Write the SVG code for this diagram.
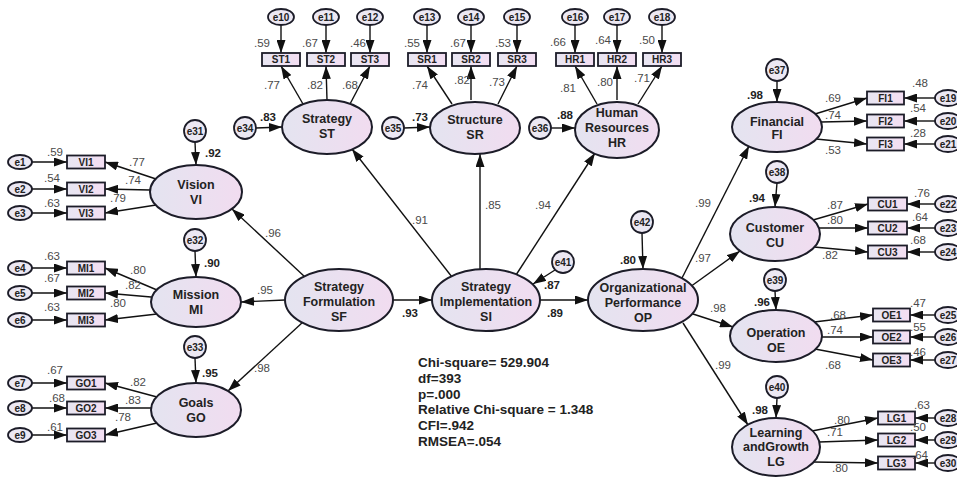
<svg xmlns="http://www.w3.org/2000/svg" width="957" height="479" viewBox="0 0 957 479">
<defs>
<linearGradient id="gL" x1="0" y1="0" x2="1" y2="0"><stop offset="0" stop-color="#e4e4f0"/><stop offset="1" stop-color="#f1dcf0"/></linearGradient>
<linearGradient id="gB" x1="0" y1="0" x2="1" y2="0"><stop offset="0" stop-color="#e8e6f2"/><stop offset="1" stop-color="#f3def2"/></linearGradient>
<marker id="ah" markerUnits="userSpaceOnUse" markerWidth="13" markerHeight="9" refX="13" refY="4.5" orient="auto"><path d="M0,0 L13,4.5 L0,9 z" fill="#111"/></marker>
<style>
.lat{fill:url(#gL);stroke:#1c1c28;stroke-width:2}
.box{fill:url(#gB);stroke:#1c1c28;stroke-width:1.8}
.err{fill:#ece8f3;stroke:#1c1c28;stroke-width:1.8}
.c line{stroke:#111;stroke-width:1.4;marker-end:url(#ah)}
text{font-family:"Liberation Sans",Arial,sans-serif;fill:#222}
.lt{font-size:12.5px;font-weight:bold;text-anchor:middle}
.bt{font-size:10px;font-weight:bold;text-anchor:middle}
.et{font-size:10px;font-weight:bold;text-anchor:middle}
.w{font-size:11.5px;fill:#4a4a4a;text-anchor:middle}
.r{font-size:11.5px;font-weight:bold;text-anchor:middle}
.fit{font-size:13.5px;font-weight:bold}
</style>
</defs>
<rect width="957" height="479" fill="#fff"/>

<g class="c" id="connectors">
<line x1="32" y1="162" x2="67" y2="162"/><line x1="32" y1="189" x2="67" y2="189"/><line x1="32" y1="213" x2="67" y2="213"/>
<line x1="32" y1="268" x2="67" y2="268"/><line x1="32" y1="293" x2="67" y2="293"/><line x1="32" y1="320" x2="67" y2="320"/>
<line x1="32" y1="383" x2="67" y2="383"/><line x1="32" y1="408" x2="67" y2="408"/><line x1="32" y1="435" x2="67" y2="435"/>
<line x1="156" y1="179" x2="105" y2="162"/><line x1="150" y1="190" x2="105" y2="189"/><line x1="156" y1="205" x2="105" y2="213"/>
<line x1="157" y1="290" x2="105" y2="268"/><line x1="151" y1="297" x2="105" y2="293"/><line x1="157" y1="314" x2="105" y2="320"/>
<line x1="157" y1="397" x2="105" y2="383"/><line x1="151" y1="408" x2="105" y2="408"/><line x1="157" y1="423" x2="105" y2="435"/>
<line x1="281" y1="25" x2="281" y2="53"/><line x1="326" y1="25" x2="326" y2="53"/><line x1="370" y1="25" x2="370" y2="53"/>
<line x1="427" y1="25" x2="427" y2="53"/><line x1="471" y1="25" x2="471" y2="53"/><line x1="517" y1="25" x2="517" y2="53"/>
<line x1="575" y1="25" x2="575" y2="53"/><line x1="617" y1="25" x2="617" y2="53"/><line x1="662" y1="25" x2="662" y2="53"/>
<line x1="303" y1="104" x2="281" y2="66"/><line x1="327" y1="100" x2="326" y2="66"/><line x1="350" y1="104" x2="370" y2="66"/>
<line x1="452" y1="104" x2="427" y2="66"/><line x1="471" y1="100" x2="471" y2="66"/><line x1="498" y1="104" x2="517" y2="66"/>
<line x1="597" y1="104" x2="575" y2="66"/><line x1="617" y1="100" x2="617" y2="66"/><line x1="638" y1="104" x2="662" y2="66"/>
<line x1="935" y1="98" x2="904" y2="98"/><line x1="935" y1="121" x2="904" y2="121"/><line x1="935" y1="144" x2="904" y2="144"/>
<line x1="935" y1="204" x2="907" y2="204"/><line x1="935" y1="228" x2="907" y2="228"/><line x1="935" y1="252" x2="907" y2="252"/>
<line x1="935" y1="315" x2="910" y2="315"/><line x1="935" y1="337" x2="910" y2="337"/><line x1="935" y1="360" x2="910" y2="360"/>
<line x1="935" y1="418" x2="915" y2="418"/><line x1="935" y1="440" x2="915" y2="440"/><line x1="935" y1="463" x2="915" y2="463"/>
<line x1="815" y1="114" x2="867" y2="98"/><line x1="821" y1="122" x2="867" y2="121"/><line x1="816" y1="139" x2="867" y2="144"/>
<line x1="813" y1="220" x2="868" y2="204"/><line x1="819" y1="228" x2="868" y2="228"/><line x1="814" y1="247" x2="868" y2="252"/>
<line x1="814" y1="322" x2="873" y2="315"/><line x1="821" y1="337" x2="873" y2="337"/><line x1="815" y1="349" x2="873" y2="360"/>
<line x1="812" y1="431" x2="878" y2="418"/><line x1="819" y1="442" x2="878" y2="440"/><line x1="813" y1="462" x2="878" y2="463"/>
<line x1="305" y1="277" x2="232" y2="209"/>
<line x1="285" y1="300" x2="241" y2="302"/>
<line x1="303" y1="322" x2="228" y2="391"/>
<line x1="393" y1="300" x2="432" y2="300"/>
<line x1="452" y1="277" x2="352" y2="149"/>
<line x1="480" y1="269" x2="480" y2="154"/>
<line x1="516" y1="275" x2="595" y2="153"/>
<line x1="540" y1="300" x2="588" y2="300"/>
<line x1="681" y1="280" x2="749" y2="146"/>
<line x1="690" y1="287" x2="740" y2="251"/>
<line x1="693" y1="314" x2="733" y2="327"/>
<line x1="683" y1="323" x2="748" y2="425"/>
<line x1="195" y1="142" x2="196" y2="165"/>
<line x1="195" y1="251" x2="196" y2="277"/>
<line x1="195" y1="358" x2="196" y2="383"/>
<line x1="256" y1="128" x2="282" y2="127"/>
<line x1="404" y1="128" x2="430" y2="127"/>
<line x1="551" y1="128" x2="575" y2="128"/>
<line x1="555" y1="270" x2="533" y2="284"/>
<line x1="642" y1="233" x2="643" y2="269"/>
<line x1="777" y1="81" x2="777" y2="102"/>
<line x1="777" y1="183" x2="775" y2="207"/>
<line x1="775" y1="291" x2="776" y2="310"/>
<line x1="777" y1="398" x2="776" y2="418"/>
</g>

<g id="VI"><ellipse class="lat" cx="196" cy="192" rx="46" ry="27"/><text class="lt" x="196" y="189">Vision</text><text class="lt" x="196" y="204">VI</text></g>
<g id="MI"><ellipse class="lat" cx="196" cy="302" rx="45" ry="25"/><text class="lt" x="196" y="299">Mission</text><text class="lt" x="196" y="314">MI</text></g>
<g id="GO"><ellipse class="lat" cx="196" cy="410" rx="45" ry="27"/><text class="lt" x="196" y="407">Goals</text><text class="lt" x="196" y="422">GO</text></g>
<g id="SF"><ellipse class="lat" cx="339" cy="300" rx="54" ry="31"/><text class="lt" x="339" y="291">Strategy</text><text class="lt" x="339" y="306">Formulation</text><text class="lt" x="339" y="321">SF</text></g>
<g id="SI"><ellipse class="lat" cx="486" cy="300" rx="54" ry="31"/><text class="lt" x="486" y="291">Strategy</text><text class="lt" x="486" y="306">Implementation</text><text class="lt" x="486" y="321">SI</text></g>
<g id="OP"><ellipse class="lat" cx="643" cy="300" rx="55" ry="31"/><text class="lt" x="643" y="292">Organizational</text><text class="lt" x="643" y="307">Performance</text><text class="lt" x="643" y="322">OP</text></g>
<g id="ST"><ellipse class="lat" cx="327" cy="127" rx="45" ry="27"/><text class="lt" x="327" y="123">Strategy</text><text class="lt" x="327" y="138">ST</text></g>
<g id="SR"><ellipse class="lat" cx="475" cy="128" rx="45" ry="26"/><text class="lt" x="475" y="124">Structure</text><text class="lt" x="475" y="139">SR</text></g>
<g id="HR"><ellipse class="lat" cx="617" cy="130" rx="42" ry="28"/><text class="lt" x="617" y="117">Human</text><text class="lt" x="617" y="132">Resources</text><text class="lt" x="617" y="147">HR</text></g>
<g id="FI"><ellipse class="lat" cx="777" cy="127" rx="45" ry="25"/><text class="lt" x="777" y="126">Financial</text><text class="lt" x="777" y="139">FI</text></g>
<g id="CU"><ellipse class="lat" cx="775" cy="234" rx="45" ry="27"/><text class="lt" x="775" y="232">Customer</text><text class="lt" x="775" y="247">CU</text></g>
<g id="OE"><ellipse class="lat" cx="776" cy="336" rx="46" ry="26"/><text class="lt" x="776" y="337">Operation</text><text class="lt" x="776" y="352">OE</text></g>
<g id="LG"><ellipse class="lat" cx="776" cy="447" rx="44" ry="29"/><text class="lt" x="776" y="437">Learning</text><text class="lt" x="776" y="451">andGrowth</text><text class="lt" x="776" y="466">LG</text></g>

<g id="VI1"><rect class="box" x="67" y="155.5" width="38" height="13"/><text class="bt" x="86" y="165.5">VI1</text></g>
<g id="VI2"><rect class="box" x="67" y="182.5" width="38" height="13"/><text class="bt" x="86" y="192.5">VI2</text></g>
<g id="VI3"><rect class="box" x="67" y="206.5" width="38" height="13"/><text class="bt" x="86" y="216.5">VI3</text></g>
<g id="MI1"><rect class="box" x="67" y="261.5" width="38" height="13"/><text class="bt" x="86" y="271.5">MI1</text></g>
<g id="MI2"><rect class="box" x="67" y="286.5" width="38" height="13"/><text class="bt" x="86" y="296.5">MI2</text></g>
<g id="MI3"><rect class="box" x="67" y="313.5" width="38" height="13"/><text class="bt" x="86" y="323.5">MI3</text></g>
<g id="GO1"><rect class="box" x="67" y="376.5" width="38" height="13"/><text class="bt" x="86" y="386.5">GO1</text></g>
<g id="GO2"><rect class="box" x="67" y="401.5" width="38" height="13"/><text class="bt" x="86" y="411.5">GO2</text></g>
<g id="GO3"><rect class="box" x="67" y="428.5" width="38" height="13"/><text class="bt" x="86" y="438.5">GO3</text></g>
<g id="ST1"><rect class="box" x="262" y="53" width="38" height="13"/><text class="bt" x="281" y="63">ST1</text></g>
<g id="ST2"><rect class="box" x="307" y="53" width="38" height="13"/><text class="bt" x="326" y="63">ST2</text></g>
<g id="ST3"><rect class="box" x="351" y="53" width="38" height="13"/><text class="bt" x="370" y="63">ST3</text></g>
<g id="SR1"><rect class="box" x="408" y="53" width="38" height="13"/><text class="bt" x="427" y="63">SR1</text></g>
<g id="SR2"><rect class="box" x="452" y="53" width="38" height="13"/><text class="bt" x="471" y="63">SR2</text></g>
<g id="SR3"><rect class="box" x="498" y="53" width="38" height="13"/><text class="bt" x="517" y="63">SR3</text></g>
<g id="HR1"><rect class="box" x="556" y="53" width="38" height="13"/><text class="bt" x="575" y="63">HR1</text></g>
<g id="HR2"><rect class="box" x="598" y="53" width="38" height="13"/><text class="bt" x="617" y="63">HR2</text></g>
<g id="HR3"><rect class="box" x="643" y="53" width="38" height="13"/><text class="bt" x="662" y="63">HR3</text></g>
<g id="FI1"><rect class="box" x="867" y="91.5" width="37" height="13"/><text class="bt" x="885.5" y="101.5">FI1</text></g>
<g id="FI2"><rect class="box" x="867" y="114.5" width="37" height="13"/><text class="bt" x="885.5" y="124.5">FI2</text></g>
<g id="FI3"><rect class="box" x="867" y="137.5" width="37" height="13"/><text class="bt" x="885.5" y="147.5">FI3</text></g>
<g id="CU1"><rect class="box" x="868" y="197.5" width="39" height="13"/><text class="bt" x="887.5" y="207.5">CU1</text></g>
<g id="CU2"><rect class="box" x="868" y="221.5" width="39" height="13"/><text class="bt" x="887.5" y="231.5">CU2</text></g>
<g id="CU3"><rect class="box" x="868" y="245.5" width="39" height="13"/><text class="bt" x="887.5" y="255.5">CU3</text></g>
<g id="OE1"><rect class="box" x="873" y="308.5" width="37" height="13"/><text class="bt" x="891.5" y="318.5">OE1</text></g>
<g id="OE2"><rect class="box" x="873" y="330.5" width="37" height="13"/><text class="bt" x="891.5" y="340.5">OE2</text></g>
<g id="OE3"><rect class="box" x="873" y="353.5" width="37" height="13"/><text class="bt" x="891.5" y="363.5">OE3</text></g>
<g id="LG1"><rect class="box" x="878" y="411.5" width="37" height="13"/><text class="bt" x="896.5" y="421.5">LG1</text></g>
<g id="LG2"><rect class="box" x="878" y="433.5" width="37" height="13"/><text class="bt" x="896.5" y="443.5">LG2</text></g>
<g id="LG3"><rect class="box" x="878" y="456.5" width="37" height="13"/><text class="bt" x="896.5" y="466.5">LG3</text></g>

<g id="e1"><ellipse class="err" cx="20" cy="162" rx="12" ry="7"/><text class="et" x="20" y="165.5">e1</text></g>
<g id="e2"><ellipse class="err" cx="20" cy="189" rx="12" ry="7"/><text class="et" x="20" y="192.5">e2</text></g>
<g id="e3"><ellipse class="err" cx="20" cy="213" rx="12" ry="7"/><text class="et" x="20" y="216.5">e3</text></g>
<g id="e4"><ellipse class="err" cx="20" cy="268" rx="12" ry="7"/><text class="et" x="20" y="271.5">e4</text></g>
<g id="e5"><ellipse class="err" cx="20" cy="293" rx="12" ry="7"/><text class="et" x="20" y="296.5">e5</text></g>
<g id="e6"><ellipse class="err" cx="20" cy="320" rx="12" ry="7"/><text class="et" x="20" y="323.5">e6</text></g>
<g id="e7"><ellipse class="err" cx="20" cy="383" rx="12" ry="7"/><text class="et" x="20" y="386.5">e7</text></g>
<g id="e8"><ellipse class="err" cx="20" cy="408" rx="12" ry="7"/><text class="et" x="20" y="411.5">e8</text></g>
<g id="e9"><ellipse class="err" cx="20" cy="435" rx="12" ry="7"/><text class="et" x="20" y="438.5">e9</text></g>
<g id="e10"><ellipse class="err" cx="281" cy="17" rx="13" ry="8"/><text class="et" x="281" y="20.5">e10</text></g>
<g id="e11"><ellipse class="err" cx="326" cy="17" rx="13" ry="8"/><text class="et" x="326" y="20.5">e11</text></g>
<g id="e12"><ellipse class="err" cx="370" cy="17" rx="13" ry="8"/><text class="et" x="370" y="20.5">e12</text></g>
<g id="e13"><ellipse class="err" cx="427" cy="17" rx="13" ry="8"/><text class="et" x="427" y="20.5">e13</text></g>
<g id="e14"><ellipse class="err" cx="471" cy="17" rx="13" ry="8"/><text class="et" x="471" y="20.5">e14</text></g>
<g id="e15"><ellipse class="err" cx="517" cy="17" rx="13" ry="8"/><text class="et" x="517" y="20.5">e15</text></g>
<g id="e16"><ellipse class="err" cx="575" cy="17" rx="13" ry="8"/><text class="et" x="575" y="20.5">e16</text></g>
<g id="e17"><ellipse class="err" cx="617" cy="17" rx="13" ry="8"/><text class="et" x="617" y="20.5">e17</text></g>
<g id="e18"><ellipse class="err" cx="662" cy="17" rx="13" ry="8"/><text class="et" x="662" y="20.5">e18</text></g>
<g id="e19"><ellipse class="err" cx="948" cy="98" rx="13" ry="8"/><text class="et" x="948" y="101.5">e19</text></g>
<g id="e20"><ellipse class="err" cx="948" cy="121" rx="13" ry="8"/><text class="et" x="948" y="124.5">e20</text></g>
<g id="e21"><ellipse class="err" cx="948" cy="144" rx="13" ry="8"/><text class="et" x="948" y="147.5">e21</text></g>
<g id="e22"><ellipse class="err" cx="948" cy="204" rx="13" ry="8"/><text class="et" x="948" y="207.5">e22</text></g>
<g id="e23"><ellipse class="err" cx="948" cy="228" rx="13" ry="8"/><text class="et" x="948" y="231.5">e23</text></g>
<g id="e24"><ellipse class="err" cx="948" cy="252" rx="13" ry="8"/><text class="et" x="948" y="255.5">e24</text></g>
<g id="e25"><ellipse class="err" cx="948" cy="315" rx="13" ry="8"/><text class="et" x="948" y="318.5">e25</text></g>
<g id="e26"><ellipse class="err" cx="948" cy="337" rx="13" ry="8"/><text class="et" x="948" y="340.5">e26</text></g>
<g id="e27"><ellipse class="err" cx="948" cy="360" rx="13" ry="8"/><text class="et" x="948" y="363.5">e27</text></g>
<g id="e28"><ellipse class="err" cx="948" cy="418" rx="13" ry="8"/><text class="et" x="948" y="421.5">e28</text></g>
<g id="e29"><ellipse class="err" cx="948" cy="440" rx="13" ry="8"/><text class="et" x="948" y="443.5">e29</text></g>
<g id="e30"><ellipse class="err" cx="948" cy="463" rx="13" ry="8"/><text class="et" x="948" y="466.5">e30</text></g>

<g id="e31"><circle class="err" cx="195" cy="131" r="11"/><text class="et" x="195" y="134.5">e31</text></g>
<g id="e32"><circle class="err" cx="195" cy="240" r="11"/><text class="et" x="195" y="243.5">e32</text></g>
<g id="e33"><circle class="err" cx="195" cy="347" r="11"/><text class="et" x="195" y="350.5">e33</text></g>
<g id="e34"><circle class="err" cx="245" cy="128" r="11"/><text class="et" x="245" y="131.5">e34</text></g>
<g id="e35"><circle class="err" cx="393" cy="128" r="11"/><text class="et" x="393" y="131.5">e35</text></g>
<g id="e36"><circle class="err" cx="540" cy="128" r="11"/><text class="et" x="540" y="131.5">e36</text></g>
<g id="e37"><circle class="err" cx="777" cy="70" r="11"/><text class="et" x="777" y="73.5">e37</text></g>
<g id="e38"><circle class="err" cx="777" cy="172" r="11"/><text class="et" x="777" y="175.5">e38</text></g>
<g id="e39"><circle class="err" cx="775" cy="280" r="11"/><text class="et" x="775" y="283.5">e39</text></g>
<g id="e40"><circle class="err" cx="777" cy="387" r="11"/><text class="et" x="777" y="390.5">e40</text></g>
<g id="e41"><circle class="err" cx="563" cy="262" r="11"/><text class="et" x="563" y="265.5">e41</text></g>
<g id="e42"><circle class="err" cx="642" cy="222" r="11"/><text class="et" x="642" y="225.5">e42</text></g>

<g id="labels">
<text class="w" x="55" y="156">.59</text><text class="w" x="52" y="182">.54</text><text class="w" x="52" y="207">.63</text>
<text class="w" x="137" y="166">.77</text><text class="w" x="133" y="184">.74</text><text class="w" x="118" y="202">.79</text>
<text class="w" x="52" y="260">.63</text><text class="w" x="52" y="282">.67</text><text class="w" x="52" y="311">.63</text>
<text class="w" x="138" y="274">.80</text><text class="w" x="133" y="289">.82</text><text class="w" x="118" y="307">.80</text>
<text class="w" x="55" y="374">.67</text><text class="w" x="57" y="402">.68</text><text class="w" x="55" y="431">.61</text>
<text class="w" x="138" y="386">.82</text><text class="w" x="133" y="404">.83</text><text class="w" x="123" y="421">.78</text>
<text class="w" x="262" y="47">.59</text><text class="w" x="310" y="47">.67</text><text class="w" x="358" y="47">.46</text>
<text class="w" x="412" y="47">.55</text><text class="w" x="458" y="47">.67</text><text class="w" x="503" y="47">.53</text>
<text class="w" x="558" y="46">.66</text><text class="w" x="603" y="44">.64</text><text class="w" x="647" y="44">.50</text>
<text class="w" x="272" y="89">.77</text><text class="w" x="315" y="89">.82</text><text class="w" x="350" y="89">.68</text>
<text class="w" x="420" y="89">.74</text><text class="w" x="462" y="84">.82</text><text class="w" x="497" y="86">.73</text>
<text class="w" x="568" y="92">.81</text><text class="w" x="605" y="86">.80</text><text class="w" x="642" y="82">.71</text>
<text class="w" x="920" y="87">.48</text><text class="w" x="918" y="112">.54</text><text class="w" x="918" y="137">.28</text>
<text class="w" x="833" y="102">.69</text><text class="w" x="833" y="119">.74</text><text class="w" x="833" y="154">.53</text>
<text class="w" x="922" y="197">.76</text><text class="w" x="920" y="221">.64</text><text class="w" x="918" y="244">.68</text>
<text class="w" x="835" y="209">.87</text><text class="w" x="835" y="224">.80</text><text class="w" x="830" y="259">.82</text>
<text class="w" x="918" y="307">.47</text><text class="w" x="918" y="331">.55</text><text class="w" x="918" y="356">.46</text>
<text class="w" x="838" y="319">.68</text><text class="w" x="835" y="334">.74</text><text class="w" x="833" y="369">.68</text>
<text class="w" x="922" y="409">.63</text><text class="w" x="918" y="431">.50</text><text class="w" x="920" y="459">.64</text>
<text class="w" x="842" y="424">.80</text><text class="w" x="835" y="436">.71</text><text class="w" x="840" y="472">.80</text>
<text class="w" x="273" y="237">.96</text><text class="w" x="265" y="294">.95</text><text class="w" x="262" y="372">.98</text>
<text class="w" x="420" y="224">.91</text><text class="w" x="493" y="209">.85</text><text class="w" x="543" y="209">.94</text>
<text class="w" x="703" y="207">.99</text><text class="w" x="703" y="262">.97</text><text class="w" x="718" y="312">.98</text><text class="w" x="723" y="369">.99</text>
<text class="r" x="213" y="157">.92</text><text class="r" x="212" y="267">.90</text><text class="r" x="210" y="377">.95</text>
<text class="r" x="268" y="121">.83</text><text class="r" x="420" y="121">.73</text><text class="r" x="565" y="119">.88</text>
<text class="r" x="552" y="289">.87</text><text class="r" x="628" y="264">.80</text>
<text class="r" x="410" y="317">.93</text><text class="r" x="555" y="317">.89</text>
<text class="r" x="755" y="99">.98</text><text class="r" x="757" y="202">.94</text><text class="r" x="762" y="306">.96</text><text class="r" x="760" y="414">.98</text>
</g>

<g id="fit">
<text class="fit" x="418" y="367">Chi-square= 529.904</text>
<text class="fit" x="418" y="383">df=393</text>
<text class="fit" x="418" y="398.5">p=.000</text>
<text class="fit" x="418" y="414">Relative Chi-square = 1.348</text>
<text class="fit" x="418" y="430">CFI=.942</text>
<text class="fit" x="418" y="446">RMSEA=.054</text>
</g>
</svg>
